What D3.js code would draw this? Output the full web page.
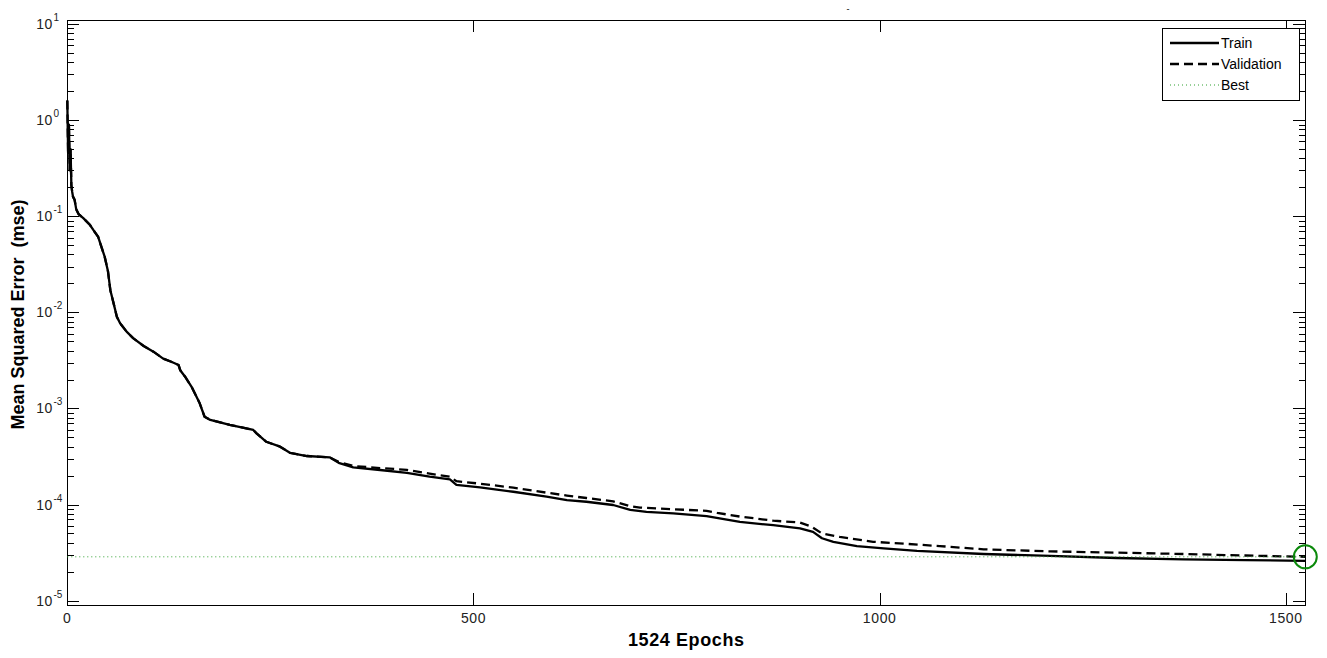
<!DOCTYPE html>
<html><head><meta charset="utf-8">
<script src="https://cdn.jsdelivr.net/npm/d3@7"></script>
<style>
body{margin:0;background:#fff}
svg text{font-family:Arial,"Liberation Sans",sans-serif;fill:#000;white-space:pre}
</style></head>
<body><svg id="c" width="1327" height="658"></svg>
<script>
// ---- data ----
const trainEpochs = [0,1,2,3,4,5,6,7,9,11,14,20,28,32,38,42,46,50,53,57,61,65,73,81,94,106,118,128,137,139,145,153,163,169,176,200,229,233,245,262,274,295,323,334,352,385,418,446,471,479,508,549,590,615,639,672,693,713,746,787,803,828,869,902,918,929,943,972,1005,1046,1128,1210,1292,1374,1450,1524];
const trainMse = [1.6,0.45,0.9,0.3,0.5,0.21,0.18,0.16,0.148,0.118,0.105,0.095,0.081,0.072,0.061,0.048,0.038,0.027,0.017,0.0124,0.009,0.0077,0.0063,0.0054,0.00447,0.0039,0.0033,0.00306,0.00283,0.0025,0.00214,0.00168,0.00113,0.00082,0.00076,0.000675,0.000597,0.00055,0.00045,0.0004,0.000346,0.00032,0.00031,0.000272,0.000244,0.000229,0.000214,0.000195,0.000183,0.00016,0.000151,0.000136,0.000121,0.000111,0.000107,0.000099,0.000088,0.000084,8.1e-5,7.6e-5,7.2e-5,6.6e-5,6.1e-5,5.66e-5,5.2e-5,4.46e-5,4.1e-5,3.7e-5,3.5e-5,3.3e-5,3.06e-5,2.92e-5,2.78e-5,2.69e-5,2.64e-5,2.6e-5];
const valEpochs = [0,1,2,3,4,5,6,7,9,11,14,20,28,32,38,42,46,50,53,57,61,65,73,81,94,106,118,128,137,139,145,153,163,169,176,200,229,233,245,262,274,295,323,334,352,385,418,446,471,479,508,549,590,615,639,672,693,705,787,800,828,869,902,916,929,951,992,1033,1074,1128,1210,1292,1374,1450,1524];
const valMse = [1.6,0.45,0.9,0.3,0.5,0.21,0.18,0.16,0.148,0.118,0.105,0.095,0.081,0.072,0.061,0.048,0.038,0.027,0.017,0.0124,0.009,0.0077,0.0063,0.0054,0.00447,0.0039,0.0033,0.00306,0.00283,0.0025,0.00214,0.00168,0.00113,0.00082,0.00076,0.000675,0.000597,0.00055,0.00045,0.0004,0.000346,0.00032,0.00031,0.000278,0.000252,0.00024,0.00023,0.00021,0.000195,0.000175,0.000165,0.00015,0.000133,0.000124,0.000117,0.000108,9.6e-5,9.3e-5,8.6e-5,8.2e-5,7.5e-5,6.8e-5,6.5e-5,5.9e-5,5.0e-5,4.6e-5,4.1e-5,3.9e-5,3.7e-5,3.42e-5,3.26e-5,3.16e-5,3.06e-5,2.95e-5,2.86e-5];
const bestEpoch = 1524;
const bestMse = 2.86e-5;
const xTicks = [0,500,1000,1500];
const yMajorExps = [-5,-4,-3,-2,-1,0,1];
const legendLabels = ["Train","Validation","Best"];
const xLabel = "1524 Epochs";
const yLabel = "Mean Squared Error  (mse)";
const titleText = "-";

// ---- layout ----
const L = 67.3, R = 1305.3, T = 20, B = 605;
const svg = d3.select("#c");
const x = d3.scaleLinear().domain([0,1524]).range([L,R]);
const y = d3.scaleLog().domain([Math.pow(10,-5.045), Math.pow(10,1.042)]).range([B,T]);

const yMajor = yMajorExps.map(e => Math.pow(10,e));
const yMinor = [];
yMajorExps.forEach(e => { for (let k=2;k<=9;k++){ const v=k*Math.pow(10,e); if (v>=y.domain()[0] && v<=y.domain()[1]) yMinor.push(v);} });

// ticks (inward) on all four sides
function tickAxis(gen, tx, ty){ const g = svg.append("g").attr("transform",`translate(${tx},${ty})`).call(gen); g.select(".domain").remove(); g.selectAll("line").attr("stroke","#000").attr("shape-rendering","crispEdges"); return g; }
tickAxis(d3.axisLeft(y).tickValues(yMajor).tickSize(-12).tickSizeOuter(0).tickFormat(()=>""), L, 0);
tickAxis(d3.axisLeft(y).tickValues(yMinor).tickSize(-6.5).tickSizeOuter(0).tickFormat(()=>""), L, 0);
tickAxis(d3.axisRight(y).tickValues(yMajor).tickSize(-12).tickSizeOuter(0).tickFormat(()=>""), R, 0);
tickAxis(d3.axisRight(y).tickValues(yMinor).tickSize(-6.5).tickSizeOuter(0).tickFormat(()=>""), R, 0);
tickAxis(d3.axisBottom(x).tickValues(xTicks).tickSize(-12).tickSizeOuter(0).tickFormat(()=>""), 0, B);
tickAxis(d3.axisTop(x).tickValues(xTicks).tickSize(-12).tickSizeOuter(0).tickFormat(()=>""), 0, T);

// frame
svg.append("rect").attr("x",L).attr("y",T).attr("width",R-L).attr("height",B-T)
  .attr("fill","none").attr("stroke","#000").attr("stroke-width",1).attr("shape-rendering","crispEdges");

// y tick labels 10^n
const yl = svg.append("g");
yMajorExps.forEach(e=>{
  const yy = y(Math.pow(10,e));
  yl.append("text").attr("x",53).attr("y",yy+5).attr("text-anchor","end").style("font-size","14px").style("letter-spacing","0.6px").style("fill","#222").text("10");
  yl.append("text").attr("x",53.5).attr("y",yy-3).attr("text-anchor","start").style("font-size","10px").style("fill","#222").text(String(e));
});
// x tick labels
svg.append("g").selectAll("text").data(xTicks).join("text")
  .attr("x",d=>x(d)).attr("y",623).attr("text-anchor","middle").style("font-size","14px").style("letter-spacing","0.6px").style("fill","#222").text(d=>d);

// axis titles
svg.append("text").attr("x",(L+R)/2).attr("y",646).attr("text-anchor","middle")
  .style("font-size","18px").style("font-weight","bold").style("letter-spacing","0.6px").text(xLabel);
svg.append("text").attr("xml:space","preserve").attr("transform",`translate(24,${(T+B)/2+2}) rotate(-90)`).attr("text-anchor","middle")
  .style("font-size","18px").style("font-weight","bold").text(yLabel);
svg.append("text").attr("x",848).attr("y",12).attr("text-anchor","middle").style("font-size","9px").text(titleText);

// series
const line = d3.line().x(d=>x(d[0])).y(d=>y(d[1]));
const trainData = trainEpochs.map((e,i)=>[e,trainMse[i]]);
const valData = valEpochs.map((e,i)=>[e,valMse[i]]);
svg.append("path").attr("d",line(trainData)).attr("fill","none").attr("stroke","#000").attr("stroke-width",2.3).attr("stroke-linejoin","round");
svg.append("path").attr("d",line(valData)).attr("fill","none").attr("stroke","#000").attr("stroke-width",2.3).attr("stroke-dasharray","9,5");
svg.append("line").attr("x1",x(0)).attr("x2",x(bestEpoch)).attr("y1",y(bestMse)).attr("y2",y(bestMse))
  .attr("stroke","#2fa02f").attr("stroke-width",1).attr("stroke-dasharray","1,3");
svg.append("circle").attr("cx",x(bestEpoch)).attr("cy",y(bestMse)).attr("r",11.5)
  .attr("fill","none").attr("stroke","#0b8a0b").attr("stroke-width",2);

// legend
const lg = svg.append("g");
lg.append("rect").attr("x",1162).attr("y",28).attr("width",137).attr("height",72).attr("fill","#fff").attr("stroke","#000").attr("shape-rendering","crispEdges");
const rowsY = [43,64,85];
const styles = [{w:2.3,d:null,c:"#000"},{w:2.3,d:"9,5",c:"#000"},{w:1,d:"1,3",c:"#2fa02f"}];
legendLabels.forEach((lab,i)=>{
  lg.append("line").attr("x1",1170).attr("x2",1219).attr("y1",rowsY[i]).attr("y2",rowsY[i])
    .attr("stroke",styles[i].c).attr("stroke-width",styles[i].w).attr("stroke-dasharray",styles[i].d);
  lg.append("text").attr("x",1221).attr("y",rowsY[i]+5).style("font-size","14px").text(lab);
});
</script></body></html>
